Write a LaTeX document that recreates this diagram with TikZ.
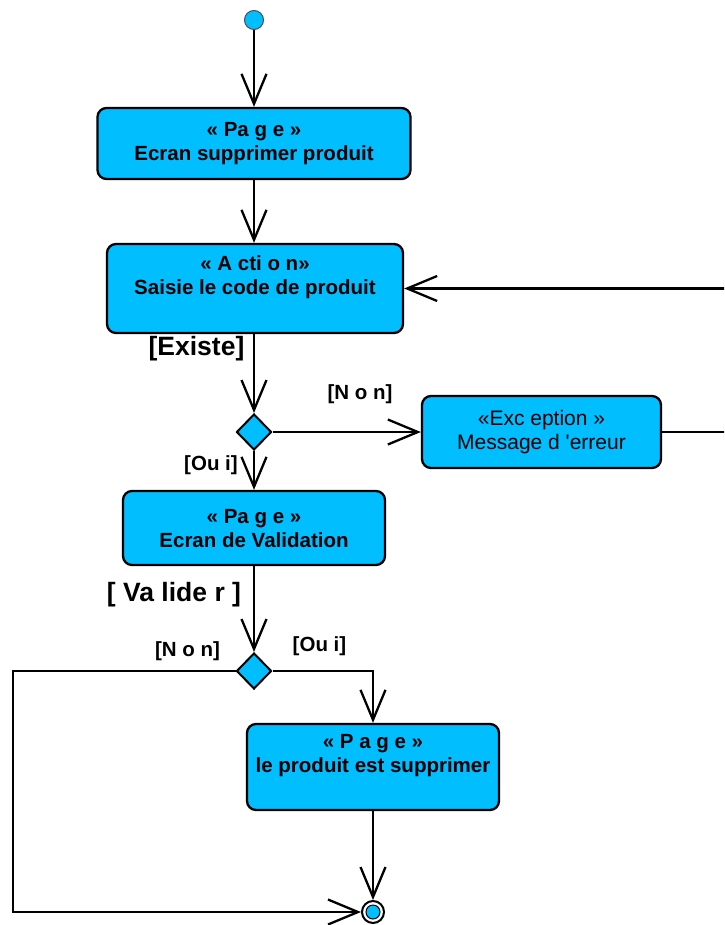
\documentclass[tikz,border=0pt]{standalone}
\usepackage{fontspec}
\setmainfont{Liberation Sans}[Ligatures=TeXOff]
\usetikzlibrary{arrows.meta,shapes.geometric}
\definecolor{umlcyan}{RGB}{0,190,255}
\tikzset{
  flow/.style={line width=2.3pt, draw=black},
  arr/.style={flow, -{Straight Barb[length=30pt,width=25pt,line width=2.3pt]}},
  actbox/.style={draw=black, line width=2.3pt, fill=umlcyan, rounded corners=9pt, inner sep=0pt},
  boxtext/.style={align=center, font=\fontsize{20.5}{24}\selectfont\bfseries, inner sep=0pt},
  exctext/.style={align=center, font=\fontsize{21}{24}\selectfont, inner sep=0pt},
  guard/.style={font=\fontsize{20.5}{22}\selectfont\bfseries, inner sep=0pt},
  bigguard/.style={font=\fontsize{26.5}{28}\selectfont\bfseries, inner sep=0pt},
  decision/.style={diamond, draw=black, line width=2pt, fill=umlcyan, minimum width=35pt, minimum height=36pt, inner sep=0pt},
}
\begin{document}
\begin{tikzpicture}[x=1pt, y=-1pt]
\useasboundingbox (0,0) rectangle (724,925);
\clip (0,0) rectangle (724,925);
\fill[white] (0,0) rectangle (724,925);

% initial node
\node[circle, draw=black!70, line width=1pt, fill=umlcyan, minimum size=19pt, inner sep=0pt] (start) at (254,20) {};

% activities
\node[actbox, minimum width=313pt, minimum height=71pt] (b1) at (254,143.5) {};
\node[boxtext] (b1t) at (254,143.5) {« Pa g e »\\Ecran supprimer produit};

\node[actbox, minimum width=296pt, minimum height=89pt] (b2) at (255,288.5) {};
\node[boxtext] (b2t) at (255,277) {« A cti o n»\\Saisie le code de produit};

\node[actbox, minimum width=239pt, minimum height=72pt] (exc) at (541.5,432) {};
\node[exctext] (exct) at (541.5,432) {«Exc eption »\\Message d 'erreur};

\node[actbox, minimum width=262pt, minimum height=74pt] (b3) at (254,528) {};
\node[boxtext] (b3t) at (254,528.5) {« Pa g e »\\Ecran de Validation};

\node[actbox, minimum width=252pt, minimum height=86pt] (b4) at (373,767) {};
\node[boxtext] (b4t) at (373,755.5) {« P a g e »\\le produit est supprimer};

% decisions
\node[decision] (d1) at (254,432) {};
\node[decision] (d2) at (254,671) {};

% final node
\node[circle, draw=black, line width=2pt, fill=white, minimum size=22pt, inner sep=0pt] (fin) at (373,912) {};
\node[circle, draw=black, line width=1pt, fill=umlcyan, minimum size=14pt, inner sep=0pt] (finin) at (373,912) {};

% helper points for the loops
\coordinate (rloop) at (740,0);
\coordinate (lloop) at (13,671);

% flows
\draw[arr] (start) -- (b1.south |- b1.north);
\draw[arr] (b1.south) -- (b1.south |- b2.north);
\draw[arr] (b1.south |- b2.south) -- (d1.north);
\draw[arr] (d1.east) -- (exc.west);
\draw[arr] (exc.east) -- (exc.east -| rloop) |- (b2.east);
\draw[arr] (d1.south) -- (d1.south |- b3.north);
\draw[arr] (b3.south) -- (d2.north);
\draw[arr] (d2.east) -| (b4.north);
\draw[arr] (d2.west) -- (lloop) |- (fin.west);
\draw[arr] (b4.south) -- (fin.north);

% guards
\node[bigguard] (gex) at (196.5,349) {[Existe]};
\node[guard] (gn1) at (360,394) {[N o n]};
\node[guard] (go1) at (211,465) {[Ou i]};
\node[bigguard] (gva) at (174,595) {[ Va lide r ]};
\node[guard] (gn2) at (187.5,651) {[N o n]};
\node[guard] (go2) at (319.5,646) {[Ou i]};
\end{tikzpicture}
\end{document}
